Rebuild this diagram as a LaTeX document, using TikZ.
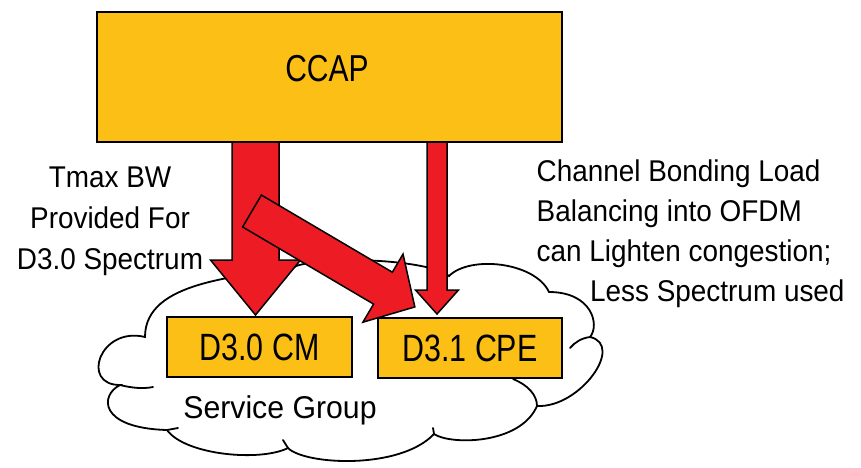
\documentclass[tikz,border=0pt]{standalone}
\usepackage{fontspec}
\setmainfont{Liberation Sans}
\newfontfamily\boxfont[FakeStretch=0.8]{Liberation Sans}
\newfontfamily\labfont[FakeStretch=0.93]{Liberation Sans}
\newfontfamily\sgfont[FakeStretch=0.96]{Liberation Sans}
\definecolor{boxyellow}{RGB}{251,191,21}
\definecolor{arrowred}{RGB}{237,28,36}
\tikzset{
  ybox/.style={draw=black, line width=2pt, fill=boxyellow, inner sep=0pt, font=\boxfont\fontsize{38}{40}\selectfont},
  redarrow/.style={draw=black, line width=1.5pt, fill=arrowred, line join=miter},
  cloudline/.style={draw=black, line width=1.8pt, line cap=round},
  lab/.style={inner sep=0pt, font=\labfont\fontsize{30}{36}\selectfont}
}
\begin{document}
\begin{tikzpicture}[x=1pt,y=-1pt]
\useasboundingbox (0,0) rectangle (861,467);
% cloud
\draw[cloudline, fill=white] (145,337)
  .. controls (100,326) and (80,385) .. (120,385)
  .. controls (100,395) and (98,428) .. (167,430)
  .. controls (185,455) and (260,462) .. (288,448)
  .. controls (305,465) and (400,470) .. (434,434)
  .. controls (450,445) and (520,445) .. (537,406)
  .. controls (580,408) and (625,345) .. (590,337)
  .. controls (600,325) and (592,292) .. (549,292)
  .. controls (535,262) and (470,255) .. (449,276)
  .. controls (430,260) and (330,255) .. (296,266)
  .. controls (240,278) and (145,280) .. (145,337) -- cycle;
% inner ticks
\draw[cloudline] (120,385) .. controls (132,388) and (143,389) .. (153,387);
\draw[cloudline] (167,430) -- (178,428);
\draw[cloudline] (288,448) -- (283,440);
\draw[cloudline] (434,434) -- (433,428);
\draw[cloudline] (537,406) .. controls (537,395) and (528,385) .. (513,379);
\draw[cloudline] (590,337) .. controls (582,338) and (575,342) .. (570,348);
\draw[cloudline] (296,266) -- (290,270);
% small boxes
\node[ybox, minimum width=185pt, minimum height=60pt] (cm) at (259.5,347) {D3.0 CM};
\node[ybox, minimum width=184pt, minimum height=60pt] (cpe) at (470,348) {D3.1 CPE};
% arrows
\coordinate (lt) at (255.5,138);
\coordinate (rt) at (437,138);
\coordinate (dt) at (252,211);
\draw[redarrow, shift={(lt)}, rotate=-90]
  (0,-23.5) -- (122,-23.5) -- (122,-45) -- (177,0) -- (122,45) -- (122,23.5) -- (0,23.5) -- cycle;
\draw[redarrow, shift={(rt)}, rotate=-90]
  (0,-10) -- (152,-10) -- (152,-21.5) -- (176,0) -- (152,21.5) -- (152,10) -- (0,10) -- cycle;
\draw[redarrow, shift={(dt)}, rotate=-30.5]
  (0,-18.5) -- (152,-18.5) -- (152,-39.5) -- (189,0) -- (152,39.5) -- (152,18.5) -- (0,18.5) -- cycle;
% CCAP box
\node[ybox, minimum width=465pt, minimum height=130pt] (ccap) at (329.5,77) {};
\node[inner sep=0pt, font=\boxfont\fontsize{37.5}{40}\selectfont, anchor=base] (ccapt) at (327,81) {CCAP};
% left text
\node[lab, anchor=base] (l1) at (110,187) {Tmax BW};
\node[lab, anchor=base] (l2) at (110,228) {Provided For};
\node[lab, anchor=base] (l3) at (110,269) {D3.0 Spectrum};
% right text
\node[lab, anchor=base west] (r1) at (536.5,181) {Channel Bonding Load};
\node[lab, anchor=base west] (r2) at (536.5,221) {Balancing into OFDM};
\node[lab, anchor=base west] (r3) at (536.5,261) {can Lighten congestion;};
\node[lab, anchor=base west] (r4) at (590,301) {Less Spectrum used};
% service group
\node[inner sep=0pt, font=\sgfont\fontsize{31.5}{36}\selectfont, anchor=base] (sg) at (280,418) {Service Group};
\end{tikzpicture}
\end{document}
